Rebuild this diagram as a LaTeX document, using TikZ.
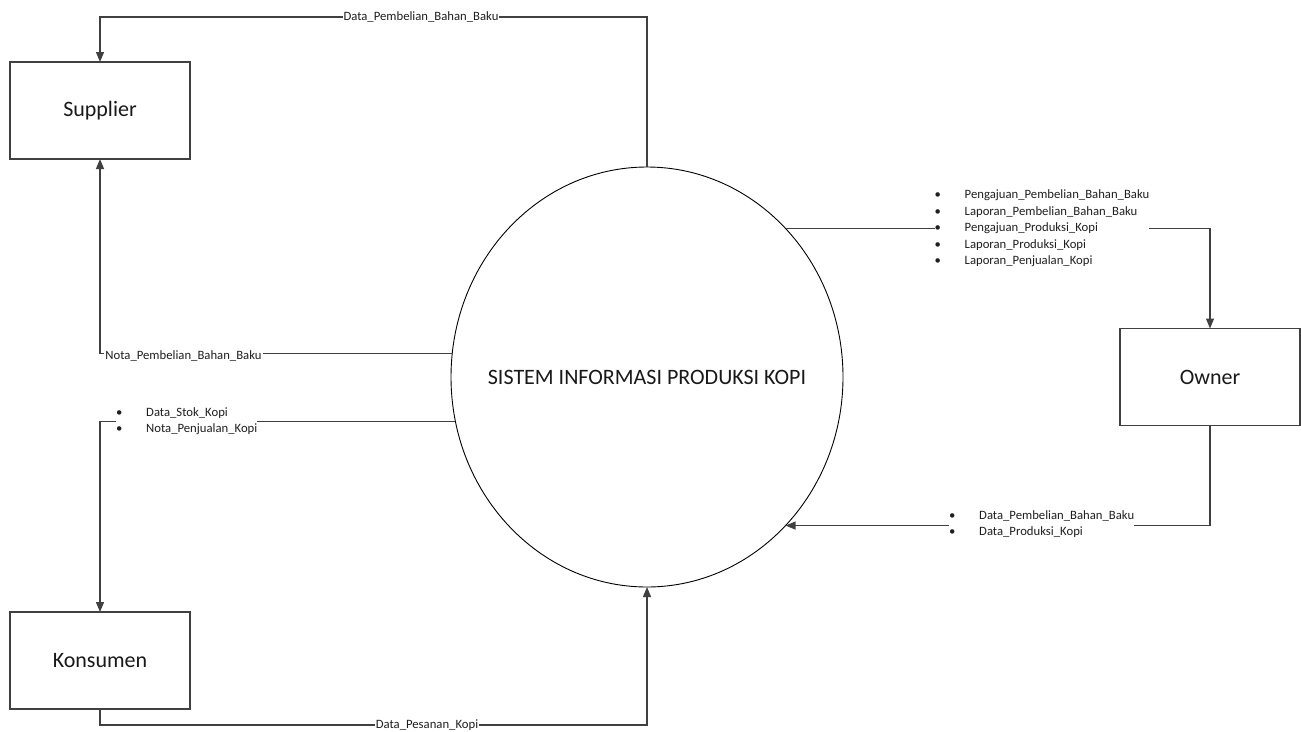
\documentclass[tikz,border=0pt]{standalone}
\usepackage{fontspec}
\setmainfont{Carlito}
\usetikzlibrary{arrows.meta,shapes.geometric}
\newcommand\myitem[1]{\makebox[30pt][l]{\textbullet}#1}
\begin{document}
\begin{tikzpicture}[x=1pt,y=-1pt,
 ent/.style={draw=black!75,line width=1.4pt,rectangle,minimum width=180pt,minimum height=97pt,inner sep=0pt,outer sep=0pt,font=\fontsize{22}{26}\selectfont,text=black!90},
 proc/.style={draw=black,line width=0.9pt,ellipse,minimum width=392pt,minimum height=420pt,inner sep=0pt,outer sep=0pt},
 ttl/.style={inner sep=0pt,font=\fontsize{22}{26}\selectfont,text=black!90},
 flow/.style={draw=black!75,line width=1.2pt,-{Triangle[length=10pt,width=8pt]}},
 lbl/.style={fill=white,inner sep=1pt,font=\fontsize{12.7}{15}\selectfont,text=black!88},
 lst/.style={fill=white,inner sep=0pt,anchor=west,align=left,font=\fontsize{12.7}{16.5}\selectfont,text=black!88}]
\useasboundingbox (0,0) rectangle (1301,731);
\node[ent] (sup) at (100,110.5) {Supplier};
\node[ent] (kon) at (100,660.5) {Konsumen};
\node[ent] (own) at (1210,377) {Owner};
\node[proc] (sys) at (647,377) {};
\node[ttl] (title) at (sys.center) {SISTEM INFORMASI PRODUKSI KOPI};
\coordinate (ytop) at (0,17);
\coordinate (ybot) at (0,725);
\draw[flow] (sys.north) -- (sys.north |- ytop) -| (sup.north);
\draw[flow] (sys.173.85) -| (sup.south);
\draw[flow] (sys.193.2) -| (kon.north);
\draw[flow] (kon.south) -- (kon.south |- ybot) -| (sys.south);
\draw[flow] (sys.47.55) -| (own.north);
\draw[flow] (own.south) |- (sys.-47.6);
\node[lbl] (l1) at (421,17) {Data\_Pembelian\_Bahan\_Baku};
\node[lbl] (l2) at (183.5,356) {Nota\_Pembelian\_Bahan\_Baku};
\node[lbl] (l3) at (427,725) {Data\_Pesanan\_Kopi};
\node[lst] (l4) at (934.5,228.4) {\myitem{Pengajuan\_Pembelian\_Bahan\_Baku}\\\myitem{Laporan\_Pembelian\_Bahan\_Baku}\\\myitem{Pengajuan\_Produksi\_Kopi}\\\myitem{Laporan\_Produksi\_Kopi}\\\myitem{Laporan\_Penjualan\_Kopi}};
\node[lst] (l5) at (949,524) {\myitem{Data\_Pembelian\_Bahan\_Baku}\\\myitem{Data\_Produksi\_Kopi}};
\node[lst] (l6) at (116,421) {\myitem{Data\_Stok\_Kopi}\\\myitem{Nota\_Penjualan\_Kopi}};
\end{tikzpicture}
\end{document}
